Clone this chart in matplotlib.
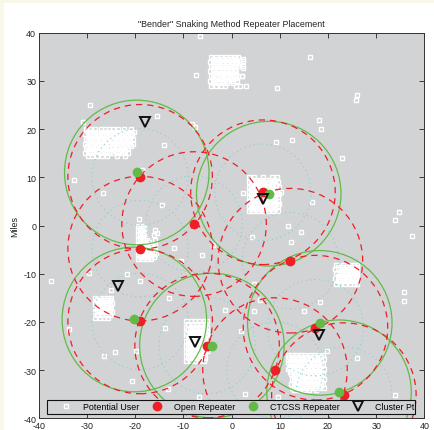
import numpy as np
import matplotlib.pyplot as plt
from matplotlib.patches import Circle, Rectangle

plt.rcParams['font.family'] = ['Liberation Sans', 'DejaVu Sans']
plt.rcParams['axes.unicode_minus'] = False

# ========== DATA (miles) ==========
# scattered potential users
user_x = [-6.5, -7.3, 9.5, 16.2, 26.0, 25.9, -29.4, -15.6, 18.1, 18.5, -8.3, -7.7,
          -14.0, 9.3, 12.6, -30.8, -32.7, -26.7, -18.7, -14.4, -19.3, 22.9, 16.6, 2.4,
          34.7, 33.9, 37.5, 11.6, 14.5, 12.3, 4.3, -12.0, -10.5, -6.2, -3.8, -37.6,
          -29.6, -21.8, -19.0, -25.1, 4.6, 35.8, 35.8, 18.4, 15.0, 4.6, 5.9, -1.4,
          2.0, -13.0, -13.9, -33.7, -24.2, -26.5, -19.9, -20.6, -13.2, 19.7, 26.1, 2.7,
          -6.7, 9.6, 33.9, 2.3, 2.3, 2.1]
user_y = [39.3, 31.2, 28.5, 35.0, 27.1, 26.1, 25.1, 22.7, 21.9, 20.1, 21.1, 20.4,
          16.8, 17.4, 17.7, 21.4, 9.4, 6.7, 11.6, 4.3, 1.3, 14.0, 4.9, 6.7,
          2.9, 1.1, -2.2, -0.2, -1.3, -3.4, -2.4, -4.7, -7.3, -6.1, -4.0, -11.5,
          -9.9, -10.1, -11.5, -13.4, -12.1, -13.7, -15.6, -15.8, -17.7, -17.7, -15.4, -17.5,
          -21.8, -15.0, -21.3, -21.5, -26.2, -27.1, -26.0, -32.2, -33.9, -26.1, -27.5, -35.0,
          -35.5, -35.5, -35.1, 34.1, 32.7, 31.1]

# dense user clusters, rows of (y, [x ...])
cluster_a = [(35.0, [-4.2, -3.3, -2.2, -1.2, -0.4, 0.6, 1.4]),
             (34.5, [-3.8, -2.8, -1.8, -0.8, 0.1, 1.0, 2.4]),
             (34.0, [-4.4, -3.5, -2.6, -1.7, -0.8, 0.2, 1.1]),
             (33.5, [-3.9, -3.0, -2.0, -1.0, -0.2, 0.8, 1.6]),
             (33.0, [-4.3, -3.4, -2.5, -1.5, -0.6, 0.4, 1.3, 2.4]),
             (32.5, [-3.9, -2.9, -2.1, -1.2, -0.3, 0.6]),
             (32.0, [-4.4, -3.6, -2.7, -1.8, -0.9, 0.1, 0.9]),
             (31.5, [-3.8, -2.9, -1.9, -1.0, 0.0, 1.0]),
             (31.0, [-4.3, -3.3, -2.4, -1.4, -0.5, 0.5, 1.4, 2.1]),
             (30.5, [-3.9, -3.0, -2.1, -1.1, -0.2, 0.8]),
             (30.0, [-4.4, -3.5, -2.6, -1.6, -0.7, 0.3, 1.2]),
             (29.5, [-3.8, -2.9, -1.9, -0.9, 0.2]),
             (29.0, [-4.2, -3.3, -2.3, -1.3, 1.0, 1.8, 2.9])]
cluster_b = [(20.0, [-30.3, -29.4, -28.3, -27.2, -26.3, -25.5, -24.6, -23.7, -22.3, -21.0]),
             (19.5, [-29.9, -28.9, -27.9, -27.0, -26.0, -25.1, -24.1, -23.1, -22.1, -21.1, -20.3]),
             (19.0, [-30.4, -29.4, -28.5, -27.5, -26.6, -25.5, -24.5, -23.5, -22.5, -21.5, -20.6]),
             (18.5, [-29.9, -28.9, -28.0, -27.0, -26.1, -25.0, -24.0, -23.0, -22.0, -21.0]),
             (18.0, [-30.3, -29.3, -28.4, -27.4, -26.4, -25.4, -24.6, -23.6, -22.6, -21.6, -20.4]),
             (17.5, [-29.8, -28.8, -27.9, -26.9, -25.9, -24.9, -24.1, -23.1, -22.1, -21.1]),
             (17.0, [-30.4, -29.5, -28.5, -27.5, -26.5, -25.5, -24.4, -23.4, -22.4, -21.4, -20.4]),
             (16.5, [-30.0, -29.0, -28.0, -27.0, -26.0, -24.9, -23.9, -22.9, -21.9, -21.0]),
             (16.0, [-30.3, -29.4, -28.4, -27.4, -26.4, -25.6, -24.6, -23.6, -22.6, -21.6]),
             (15.5, [-29.9, -28.9, -27.9, -26.9, -25.9, -25.1, -24.1, -23.1, -22.1]),
             (15.0, [-30.4, -29.5, -28.5, -27.4, -26.3, -25.4, -24.6, -23.6, -22.6, -21.6]),
             (14.5, [-29.9, -28.9, -27.9, -27.0, -25.9, -23.9, -22.2])]
cluster_c = [(10.0, [3.6, 4.6, 6.6, 8.3, 9.4]),
             (9.5, [4.1, 5.1, 6.1, 7.1, 8.0, 9.1]),
             (9.0, [3.5, 4.5, 5.5, 6.5, 7.5, 8.6, 9.7]),
             (8.5, [4.0, 5.0, 6.0, 7.0, 8.1, 9.2]),
             (8.0, [3.6, 4.6, 5.6, 6.6, 7.6, 8.6, 9.8]),
             (7.5, [4.1, 5.1, 6.1, 7.1, 8.1, 9.1]),
             (7.0, [3.5, 4.5, 5.4, 6.4, 7.4, 8.5, 9.5, 10.2]),
             (6.5, [4.0, 5.0, 5.9, 6.9, 7.9, 9.0, 9.9]),
             (6.0, [3.6, 4.6, 5.6, 6.6, 7.6, 8.6, 9.6]),
             (5.5, [4.1, 5.1, 6.1, 7.1, 8.1, 9.1]),
             (5.0, [3.5, 4.5, 5.5, 6.5, 7.5, 8.5, 9.6]),
             (4.5, [4.0, 5.0, 6.0, 7.0, 8.0, 9.0, 9.9]),
             (4.0, [3.6, 4.6, 5.6, 6.6, 7.6, 8.6, 9.7]),
             (3.5, [4.1, 5.1, 6.1, 7.1, 8.1, 9.1]),
             (3.0, [3.5, 4.5, 5.5, 6.5, 7.5, 8.5, 9.6])]
cluster_d = [(0.0, [-19.4, -18.5]),
             (-0.5, [-19.0, -18.2]),
             (-1.0, [-19.5, -18.6, -16.0]),
             (-1.5, [-19.0, -18.1, -15.5]),
             (-2.0, [-19.4, -18.4, -16.2]),
             (-2.5, [-19.0, -18.0]),
             (-3.0, [-19.5, -18.5, -17.6, -16.0]),
             (-3.5, [-19.0, -18.1, -17.1]),
             (-4.0, [-19.4, -18.5, -17.5, -16.6, -15.9]),
             (-4.5, [-19.0, -18.0, -17.0, -16.2]),
             (-5.0, [-19.5, -18.6, -17.6, -16.7, -15.9]),
             (-5.5, [-19.0, -18.1, -17.1, -16.2]),
             (-6.0, [-19.4, -18.4, -17.5, -16.6, -15.8]),
             (-6.5, [-19.0, -18.0, -17.0, -16.2]),
             (-7.0, [-19.5, -18.5, -17.6, -16.8])]
cluster_e = [(-8.1, [21.6, 23.2, 24.5, 25.5, 26.1]),
             (-8.6, [22.0, 23.0, 24.0, 25.0, 25.9]),
             (-9.1, [21.5, 22.4, 23.4, 24.4, 25.4, 26.0]),
             (-9.6, [22.0, 22.9, 23.9, 24.9, 25.8]),
             (-10.1, [21.6, 22.5, 23.5, 24.5, 25.5, 26.1]),
             (-10.6, [22.0, 23.0, 24.0, 25.0, 25.9]),
             (-11.1, [21.5, 22.4, 23.4, 24.4, 25.4, 26.0]),
             (-11.6, [22.0, 22.9, 23.9, 24.9, 25.8]),
             (-12.1, [21.6, 22.5, 23.5, 24.5, 25.5, 26.1])]
cluster_f = [(-15.0, [-28.3, -27.4, -26.5, -25.6, -25.0]),
             (-15.5, [-27.9, -27.0, -26.0, -25.2]),
             (-16.0, [-28.4, -27.5, -26.6, -25.7, -24.9]),
             (-16.5, [-27.9, -27.0, -26.1, -25.3]),
             (-17.0, [-28.3, -27.4, -26.5, -25.6, -25.0]),
             (-17.5, [-27.9, -27.0, -26.0, -25.2]),
             (-18.0, [-28.4, -27.5, -26.6, -25.7, -24.9]),
             (-18.5, [-27.9, -27.0, -26.1, -25.3]),
             (-19.1, [-28.3, -27.4, -26.5, -25.6])]
cluster_g = [(-19.9, [-9.4, -8.5, -7.6, -6.7, -5.8, -5.2]),
             (-20.4, [-9.0, -8.1, -7.2, -6.3, -5.5]),
             (-21.0, [-9.5, -8.6, -7.7, -6.8, -5.9, -5.1]),
             (-21.5, [-9.0, -8.1, -7.2, -6.3, -5.5]),
             (-22.0, [-9.4, -8.5, -7.6, -6.7, -5.8, -5.2]),
             (-22.5, [-9.0, -8.1, -7.2, -6.3, -5.4]),
             (-23.0, [-9.5, -8.6, -7.7, -6.8, -5.9, -5.1]),
             (-23.5, [-9.0, -8.1, -7.2, -6.3, -5.5]),
             (-24.0, [-9.4, -8.5, -7.6, -6.7, -5.8]),
             (-24.5, [-9.0, -8.1, -7.2, -6.3]),
             (-25.0, [-9.5, -8.6, -7.7, -6.8, -5.9]),
             (-25.5, [-9.0, -8.1, -7.2, -6.3]),
             (-26.0, [-9.4, -8.5, -7.6, -6.7, -5.8, -5.2]),
             (-26.5, [-9.0, -8.1, -7.2, -6.3, -5.5]),
             (-27.0, [-9.5, -8.6, -7.7, -6.8, -5.9]),
             (-27.5, [-9.0, -8.1, -7.2, -6.3, -5.5]),
             (-28.1, [-9.4, -8.5, -7.6, -6.7, -5.8])]
cluster_h = [(-26.8, [11.6, 12.5, 13.4, 14.3, 15.3, 16.2, 17.2, 18.1, 19.0]),
             (-27.3, [12.0, 12.9, 13.8, 14.8, 15.7, 16.7, 17.6, 18.6]),
             (-27.8, [11.7, 12.6, 13.5, 14.4, 15.4, 16.3, 17.3, 18.2, 19.1]),
             (-28.3, [12.1, 13.0, 13.9, 14.9, 15.8, 16.8, 17.7, 18.6]),
             (-28.8, [11.6, 12.5, 13.4, 14.3, 15.3, 16.2, 17.2, 18.1, 19.0]),
             (-29.3, [12.0, 12.9, 13.8, 14.8, 15.7, 16.7, 17.6, 18.6]),
             (-29.8, [11.7, 12.6, 13.5, 14.4, 15.4, 16.3, 17.3, 18.2, 19.1]),
             (-30.3, [12.1, 13.0, 13.9, 14.9, 15.8, 16.8, 17.7, 18.6]),
             (-30.8, [12.4, 13.4, 14.3, 15.3, 16.2, 17.2, 18.1, 19.0]),
             (-31.3, [12.9, 13.8, 14.8, 15.7, 16.7, 17.6, 18.6]),
             (-31.8, [12.5, 13.5, 14.4, 15.4, 16.3, 17.3, 18.2, 19.1]),
             (-32.3, [12.9, 13.9, 14.9, 15.8, 16.8, 17.7, 18.6]),
             (-32.8, [12.4, 13.4, 14.3, 15.3, 16.2, 17.2, 18.1, 19.0]),
             (-33.3, [12.9, 13.8, 14.8, 15.7, 16.7, 17.6, 18.6]),
             (-33.8, [12.5, 13.5, 14.4, 15.4, 16.3, 17.3, 18.2, 19.1]),
             (-34.2, [13.0, 14.0, 15.0, 16.0, 17.6])]
clusters = [cluster_a, cluster_b, cluster_c, cluster_d,
            cluster_e, cluster_f, cluster_g, cluster_h]

# repeaters and cluster points
open_x = [-19.0, -7.8, -19.0, 12.2, 6.5, -19.0, -5.1, 9.0, 17.4, 23.3]
open_y = [10.1, 0.3, -4.8, -7.3, 6.9, -19.9, -24.9, -30.0, -21.2, -35.2]
ctcss_x = [-19.7, 7.7, -20.2, -4.1, 18.3, 22.3]
ctcss_y = [11.0, 6.6, -19.5, -24.9, -20.2, -34.6]
clus_x = [-18.0, 6.5, -23.5, -7.6, 18.2]
clus_y = [21.5, 5.6, -12.5, -24.1, -22.7]

coverage_r = 15
inner_r = 10

# ========== FLATTEN USERS ==========
ux = list(user_x)
uy = list(user_y)
for cl in clusters:
    for yv, xs in cl:
        ux += xs
        uy += [yv] * len(xs)

# ========== PLOT ==========
W, H = 435, 431
fig = plt.figure(figsize=(W / 100, H / 100), dpi=100)
fig.patch.set_facecolor('#f9f7ea')
fig.patches.append(Rectangle((4 / W, 0), 1, 1 - 4 / H, transform=fig.transFigure,
                             facecolor='white', edgecolor='none', zorder=-10))

ax = fig.add_axes([39 / W, 1 - 419.3 / H, 385.3 / W, 385.6 / H])
gray = '#d2d3d5'
ax.set_facecolor(gray)

red = '#ee1f26'
green = '#62bb46'
cyan = '#8ccdd3'

h_user, = ax.plot(ux, uy, 's', ms=3.4, mfc='none', mec='white', mew=1.0,
                  ls='none', zorder=2, label='Potential User')

for x, y in zip(open_x, open_y):
    ax.add_patch(Circle((x, y), inner_r, fill=False, ec=cyan, lw=0.8,
                        ls=(0, (1, 3)), zorder=3))
for x, y in zip(open_x, open_y):
    ax.add_patch(Circle((x, y), coverage_r, fill=False, ec=red, lw=0.9,
                        ls=(0, (5, 4)), zorder=3.2))
for x, y in zip(ctcss_x, ctcss_y):
    ax.add_patch(Circle((x, y), coverage_r, fill=False, ec=green, lw=0.9,
                        zorder=3.1))

h_open, = ax.plot(open_x, open_y, 'o', ms=6, color=red, mec=red, ls='none',
                  zorder=4, label='Open Repeater')
h_ctcss, = ax.plot(ctcss_x, ctcss_y, 'o', ms=6, color=green, mec=green, ls='none',
                   zorder=4.1, label='CTCSS Repeater')
h_clus, = ax.plot(clus_x, clus_y, 'v', ms=7.5, mfc='none', mec='#111111', mew=1.4,
                  ls='none', zorder=5, label='Cluster Pt')

ax.set_xlim(-40, 40)
ax.set_ylim(-40, 40)
ax.set_xticks(range(-40, 41, 10))
ax.set_yticks(range(-40, 41, 10))
ax.tick_params(direction='in', top=True, right=True, length=3.5, width=0.6,
               labelsize=6.4, colors='#222222', pad=2)
for sp in ax.spines.values():
    sp.set_color('#333333')
    sp.set_linewidth(0.7)

ax.set_title('"Bender" Snaking Method Repeater Placement', fontsize=6.4,
             color='#222222', pad=5)
ax.set_ylabel('Miles', fontsize=6.4, color='#222222', labelpad=3)

# legend box drawn separately (MATLAB style, wider on the left)
ax.add_patch(Rectangle((0.0208, 0.0112), 0.9551, 0.037, transform=ax.transAxes,
                       facecolor=gray, edgecolor='#111111', lw=0.8,
                       zorder=9, clip_on=False))
leg = ax.legend(handles=[h_user, h_open, h_ctcss, h_clus], ncol=4,
                loc='center left', bbox_to_anchor=(0.0527, 0.0297),
                fontsize=6.4, frameon=False, handlelength=1.5,
                handletextpad=1.16, columnspacing=1.27, borderpad=0,
                borderaxespad=0)
leg.set_zorder(10)

fig.savefig('out.png', dpi=100, facecolor=fig.get_facecolor())
